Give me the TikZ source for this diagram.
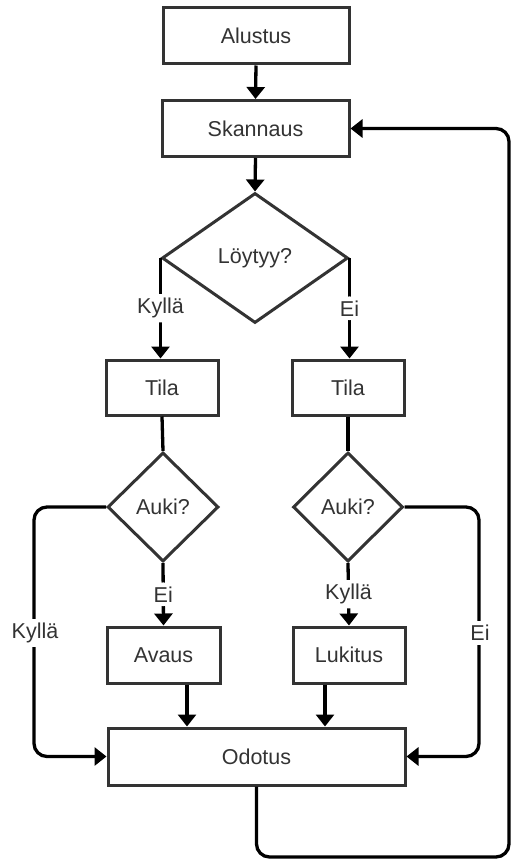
\documentclass[tikz,border=0pt]{standalone}
\usepackage{fontspec}
\setmainfont{Liberation Sans}
\usetikzlibrary{shapes.geometric,arrows.meta}
\definecolor{boxline}{HTML}{333333}
\definecolor{txt}{HTML}{333333}
\begin{document}
\begin{tikzpicture}[x=1pt,y=-1pt,
  font=\fontsize{21.5}{24}\selectfont, text=txt,
  stepbox/.style={draw=boxline, line width=3pt, fill=white, rectangle, inner sep=0pt, minimum height=56pt},
  decide/.style={draw=boxline, line width=3pt, fill=white, diamond, inner sep=0pt},
  conn/.style={draw=black, line width=3.3pt, rounded corners=13pt},
  arr/.style={conn, -{Triangle[length=12pt,width=18pt]}},
  lbl/.style={fill=white, inner sep=4pt, text=txt}]
\useasboundingbox (0,0) rectangle (511,859);

\node[stepbox, minimum width=186pt] (alustus) at (256,36) {Alustus};
\node[stepbox, minimum width=187pt] (skannaus) at (255.5,128.5) {Skannaus};
\node[decide, minimum width=186pt, minimum height=130pt] (loytyy) at (255,258) {Löytyy?};
\node[stepbox, minimum width=112pt, minimum height=55pt] (tila1) at (162,387.5) {Tila};
\node[stepbox, minimum width=112pt, minimum height=55pt] (tila2) at (348,387.5) {Tila};
\node[decide, minimum width=111pt, minimum height=109pt] (auki1) at (163,507) {Auki?};
\node[decide, minimum width=110pt, minimum height=109pt] (auki2) at (348,507) {Auki?};
\node[stepbox, minimum width=113pt] (avaus) at (163.5,655) {Avaus};
\node[stepbox, minimum width=112pt] (lukitus) at (349,655) {Lukitus};
\node[stepbox, minimum width=297pt, minimum height=57pt] (odotus) at (256.5,756.5) {Odotus};

\coordinate (xa) at (187,0);
\coordinate (xl) at (325,0);
\coordinate (leftx) at (34,0);
\coordinate (rightx) at (479,0);
\coordinate (loopbl) at (256.5,857);
\coordinate (looptr) at (509,128.5);

\draw[arr] (alustus.south) -- (skannaus.north);
\draw[arr] (skannaus.south) -- (loytyy.north);
\draw[arr] (loytyy.west) -- (loytyy.west |- tila1.north)
  node[lbl, pos=0.5] (l1) {Kyllä};
\draw[arr] (loytyy.east) -- (loytyy.east |- tila2.north)
  node[lbl, pos=0.5] (l2) {Ei};
\draw[conn] (tila1.south) -- (auki1.north);
\draw[conn] (tila2.south) -- (auki2.north);
\draw[arr] (auki1.south) -- (avaus.north) node[lbl, pos=0.5] (l3) {Ei};
\draw[arr] (auki2.south) -- (lukitus.north) node[lbl, pos=0.5] (l4) {Kyllä};
\draw[arr] (auki1.west) -- (auki1.west -| leftx) -- (odotus.west -| leftx) -- (odotus.west);
\node[lbl] (l5) at (35,633) {Kyllä};
\draw[arr] (auki2.east) -- (auki2.east -| rightx) -- (odotus.east -| rightx) -- (odotus.east);
\node[lbl] (l6) at (480,633) {Ei};
\draw[arr] (avaus.south -| xa) -- (odotus.north -| xa);
\draw[arr] (lukitus.south -| xl) -- (odotus.north -| xl);
\draw[arr] (odotus.south) -- (loopbl) -- (loopbl -| looptr) -- (looptr) -- (skannaus.east);
\end{tikzpicture}
\end{document}
